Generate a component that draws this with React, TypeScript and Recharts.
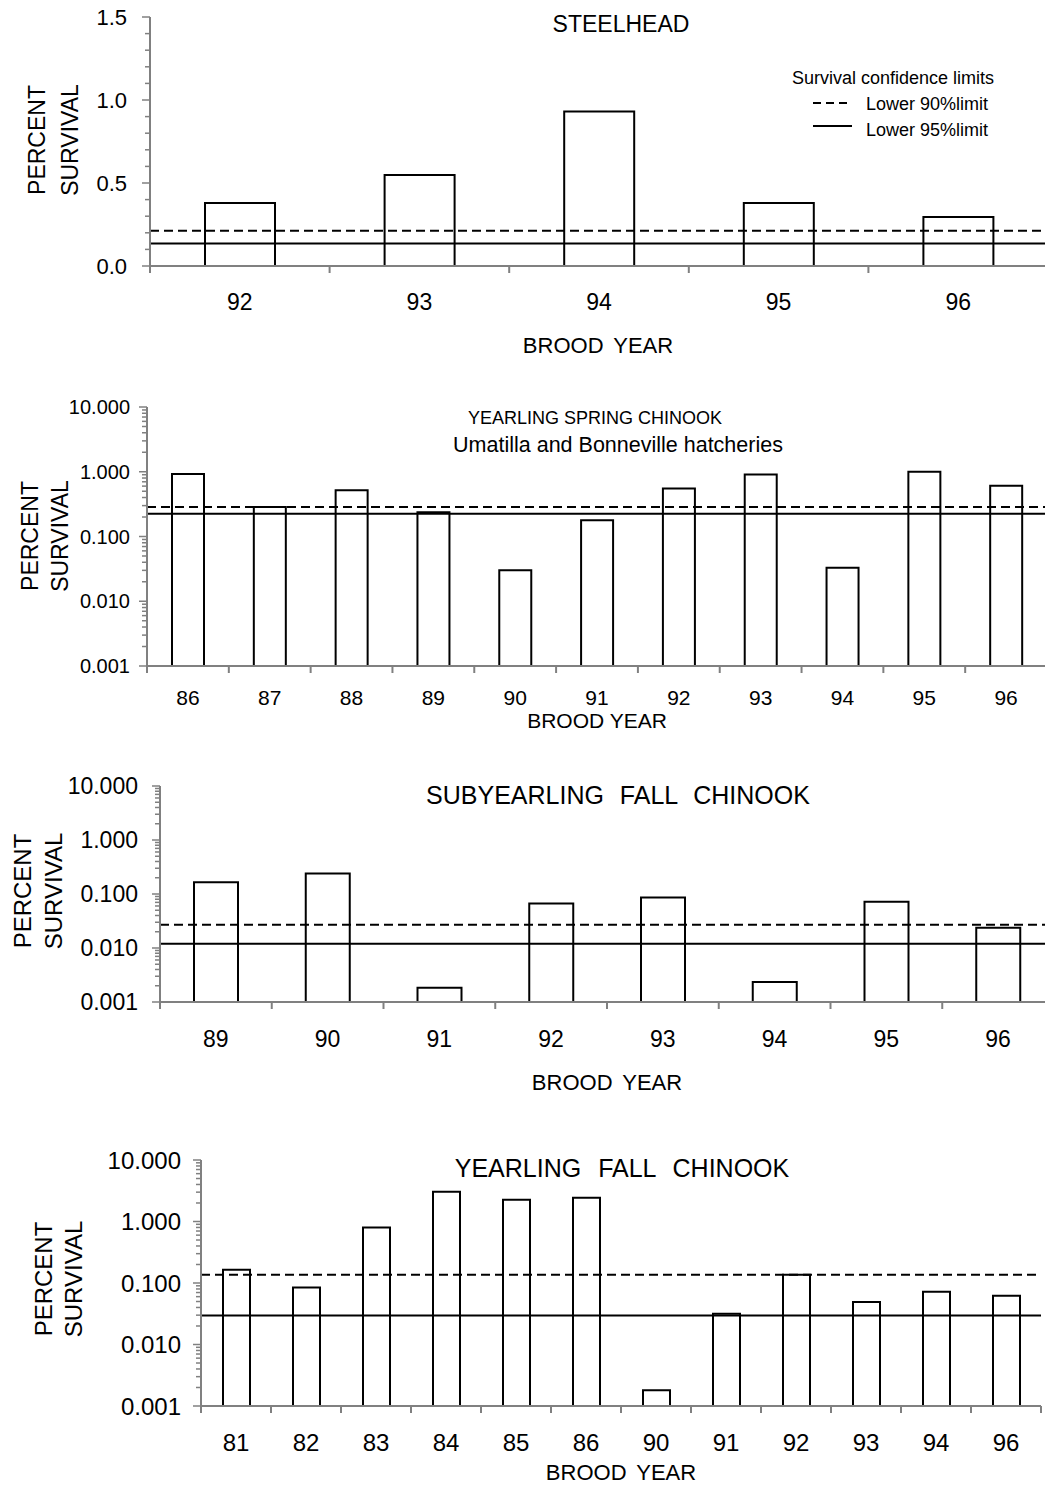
import React from 'react';
import { BarChart, Bar, XAxis, YAxis, ReferenceLine } from 'recharts';

const AXIS = '#808080';
const FONT = '"Liberation Sans", Arial, Helvetica, sans-serif';

// Steelhead
const steelheadYears = ['92', '93', '94', '95', '96'];
const steelheadSurvival = [0.38, 0.548, 0.93, 0.38, 0.295];
const steelheadLower90 = 0.212;
const steelheadLower95 = 0.135;

// Yearling spring chinook (Umatilla and Bonneville hatcheries)
const springYears = ['86', '87', '88', '89', '90', '91', '92', '93', '94', '95', '96'];
const springSurvival = [0.92, 0.286, 0.52, 0.237, 0.03, 0.178, 0.55, 0.91, 0.033, 1.0, 0.61];
const springLower90 = 0.285;
const springLower95 = 0.225;

// Subyearling fall chinook
const subFallYears = ['89', '90', '91', '92', '93', '94', '95', '96'];
const subFallSurvival = [0.165, 0.24, 0.00184, 0.067, 0.086, 0.00235, 0.072, 0.0237];
const subFallLower90 = 0.027;
const subFallLower95 = 0.012;

// Yearling fall chinook
const yrFallYears = ['81', '82', '83', '84', '85', '86', '90', '91', '92', '93', '94', '96'];
const yrFallSurvival = [0.164, 0.0845, 0.8, 3.06, 2.26, 2.44, 0.0018, 0.0315, 0.136, 0.049, 0.072, 0.062];
const yrFallLower90 = 0.136;
const yrFallLower95 = 0.0296;

// axis ticks
const linearTicks = [0, 0.1, 0.2, 0.3, 0.4, 0.5, 0.6, 0.7, 0.8, 0.9, 1.0, 1.1, 1.2, 1.3, 1.4, 1.5];
const linearMajor = [0, 0.5, 1.0, 1.5];
const logMajor = [0.001, 0.01, 0.1, 1, 10];
const logMinor = [
  0.002, 0.003, 0.004, 0.005, 0.006, 0.007, 0.008, 0.009,
  0.02, 0.03, 0.04, 0.05, 0.06, 0.07, 0.08, 0.09,
  0.2, 0.3, 0.4, 0.5, 0.6, 0.7, 0.8, 0.9,
  2, 3, 4, 5, 6, 7, 8, 9,
];

const isIn = (v: number, list: number[]) => list.some((m) => Math.abs(m - v) < 1e-9);

function XTick(props: any) {
  const { x, y, payload, index, bw, fontSize, dy } = props;
  return (
    <g>
      <line x1={x + bw / 2} x2={x + bw / 2} y1={y} y2={y + 7} stroke={AXIS} strokeWidth={2} />
      {index === 0 && <line x1={x - bw / 2} x2={x - bw / 2} y1={y} y2={y + 7} stroke={AXIS} strokeWidth={2} />}
      <text x={x} y={y + dy} textAnchor="middle" fontSize={fontSize} fontFamily={FONT} fill="#000">
        {payload.value}
      </text>
    </g>
  );
}

function YTick(props: any) {
  const { x, y, payload, major, fontSize, gap, digits, majorLen, minorLen } = props;
  const isMajor = isIn(payload.value, major);
  return (
    <g>
      <line x1={x - (isMajor ? majorLen : minorLen)} x2={x} y1={y} y2={y} stroke={AXIS} strokeWidth={1.5} />
      {isMajor && (
        <text x={x - gap} y={y} dy="0.36em" textAnchor="end" fontSize={fontSize} fontFamily={FONT} fill="#000">
          {payload.value.toFixed(digits)}
        </text>
      )}
    </g>
  );
}

type PanelProps = {
  top: number;
  height: number;
  left: number;
  plotW: number;
  plotTop: number;
  plotH: number;
  years: string[];
  values: number[];
  lower90: number;
  lower95: number;
  log: boolean;
  barSize: number;
  yFont: number;
  yGap: number;
  xFont: number;
  xDy: number;
};

function SurvivalPanel(p: PanelProps) {
  const data = p.years.map((year, i) => ({ year, survival: p.values[i] }));
  const chartW = 1070;
  const bw = p.plotW / p.years.length;
  // axes are 1px wide/high so they still render; margins absorb that pixel
  const margin = {
    top: p.plotTop,
    left: p.left - 1,
    right: chartW - p.left - p.plotW,
    bottom: p.height - p.plotTop - p.plotH - 1,
  };
  const ticks = p.log ? [...logMajor, ...logMinor].sort((a, b) => a - b) : linearTicks;
  const major = p.log ? logMajor : linearMajor;
  return (
    <div style={{ position: 'absolute', left: 0, top: p.top }}>
      <BarChart width={chartW} height={p.height} data={data} margin={margin} barSize={p.barSize}>
        <XAxis
          dataKey="year"
          type="category"
          height={1}
          interval={0}
          tickLine={false}
          tickSize={0}
          tickMargin={0}
          axisLine={{ stroke: AXIS, strokeWidth: 2 }}
          tick={(t: any) => <XTick {...t} bw={bw} fontSize={p.xFont} dy={p.xDy} />}
        />
        <YAxis
          type="number"
          width={1}
          scale={p.log ? 'log' : 'linear'}
          domain={p.log ? [0.001, 10] : [0, 1.5]}
          allowDataOverflow
          ticks={ticks}
          interval={0}
          tickLine={false}
          tickSize={0}
          tickMargin={0}
          axisLine={{ stroke: AXIS, strokeWidth: 2 }}
          tick={(t: any) => (
            <YTick
              {...t}
              major={major}
              fontSize={p.yFont}
              gap={p.yGap}
              digits={p.log ? 3 : 1}
              majorLen={8}
              minorLen={5}
            />
          )}
        />
        <Bar dataKey="survival" fill="#fff" stroke="#000" strokeWidth={2} isAnimationActive={false} />
        <ReferenceLine y={p.lower90} stroke="#000" strokeWidth={2} strokeDasharray="9 5" />
        <ReferenceLine y={p.lower95} stroke="#000" strokeWidth={2} />
      </BarChart>
    </div>
  );
}

function VLabel({ x1, x2, cy, fontSize }: { x1: number; x2: number; cy: number; fontSize: number }) {
  return (
    <g fontFamily={FONT} fontSize={fontSize} fill="#000" textAnchor="middle">
      <text x={x1} y={cy} transform={`rotate(-90 ${x1} ${cy})`}>PERCENT</text>
      <text x={x2} y={cy} transform={`rotate(-90 ${x2} ${cy})`}>SURVIVAL</text>
    </g>
  );
}

export default function App() {
  return (
    <div
      style={{
        position: 'absolute',
        left: 0,
        top: 0,
        width: 1045,
        height: 1488,
        overflow: 'hidden',
        background: '#fff',
        fontFamily: FONT,
      }}
    >
      <SurvivalPanel
        top={0}
        height={370}
        left={150}
        plotW={898}
        plotTop={17}
        plotH={249}
        years={steelheadYears}
        values={steelheadSurvival}
        lower90={steelheadLower90}
        lower95={steelheadLower95}
        log={false}
        barSize={70}
        yFont={22}
        yGap={23}
        xFont={23}
        xDy={44}
      />
      <SurvivalPanel
        top={390}
        height={360}
        left={147}
        plotW={900}
        plotTop={17}
        plotH={259}
        years={springYears}
        values={springSurvival}
        lower90={springLower90}
        lower95={springLower95}
        log={true}
        barSize={32}
        yFont={20}
        yGap={17}
        xFont={21}
        xDy={39}
      />
      <SurvivalPanel
        top={770}
        height={360}
        left={160}
        plotW={894}
        plotTop={16}
        plotH={216}
        years={subFallYears}
        values={subFallSurvival}
        lower90={subFallLower90}
        lower95={subFallLower95}
        log={true}
        barSize={44}
        yFont={23}
        yGap={22}
        xFont={23}
        xDy={45}
      />
      <SurvivalPanel
        top={1140}
        height={348}
        left={201}
        plotW={840}
        plotTop={20}
        plotH={246}
        years={yrFallYears}
        values={yrFallSurvival}
        lower90={yrFallLower90}
        lower95={yrFallLower95}
        log={true}
        barSize={27}
        yFont={24}
        yGap={20}
        xFont={24}
        xDy={45}
      />
      <svg
        width={1045}
        height={1488}
        style={{ position: 'absolute', left: 0, top: 0, pointerEvents: 'none' }}
      >
        <g fontFamily={FONT} fill="#000">
          {/* panel 1 */}
          <text x={621} y={32} fontSize={23} textAnchor="middle">STEELHEAD</text>
          <text x={792} y={84} fontSize={18}>Survival confidence limits</text>
          <line x1={813} x2={850} y1={103} y2={103} stroke="#000" strokeWidth={2} strokeDasharray="8 5" />
          <text x={866} y={110} fontSize={18}>Lower 90%limit</text>
          <line x1={813} x2={852} y1={126} y2={126} stroke="#000" strokeWidth={2} />
          <text x={866} y={136} fontSize={18}>Lower 95%limit</text>
          <text x={598} y={353} fontSize={22} textAnchor="middle" style={{ wordSpacing: 4 }}>BROOD YEAR</text>
          {/* panel 2 */}
          <text x={595} y={424} fontSize={18} textAnchor="middle">YEARLING SPRING CHINOOK</text>
          <text x={618} y={452} fontSize={21.5} textAnchor="middle">Umatilla and Bonneville hatcheries</text>
          <text x={597} y={728} fontSize={21} textAnchor="middle">BROOD YEAR</text>
          {/* panel 3 */}
          <text x={618} y={804} fontSize={25} textAnchor="middle" style={{ wordSpacing: 9 }}>SUBYEARLING FALL CHINOOK</text>
          <text x={607} y={1090} fontSize={22} textAnchor="middle" style={{ wordSpacing: 4 }}>BROOD YEAR</text>
          {/* panel 4 */}
          <text x={622} y={1177} fontSize={25} textAnchor="middle" style={{ wordSpacing: 10 }}>YEARLING FALL CHINOOK</text>
          <text x={621} y={1480} fontSize={22} textAnchor="middle" style={{ wordSpacing: 4 }}>BROOD YEAR</text>
        </g>
        <VLabel x1={45} x2={78} cy={140} fontSize={23} />
        <VLabel x1={38} x2={68} cy={536} fontSize={23} />
        <VLabel x1={31} x2={62} cy={891} fontSize={24} />
        <VLabel x1={52} x2={82} cy={1279} fontSize={24} />
      </svg>
    </div>
  );
}
